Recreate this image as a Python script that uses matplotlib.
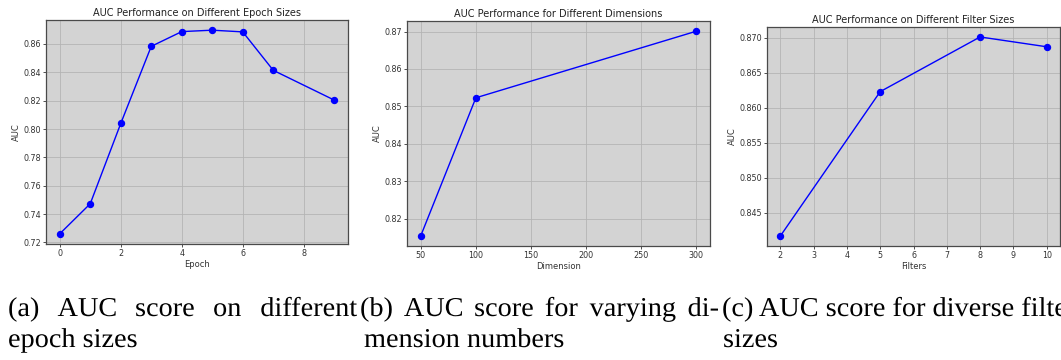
import matplotlib
matplotlib.use("Agg")
import matplotlib.pyplot as plt
from matplotlib.font_manager import FontProperties
from matplotlib.patches import PathPatch
from matplotlib.textpath import TextPath
from matplotlib.transforms import Affine2D

# data
epochs = [0, 1, 2, 3, 4, 5, 6, 7, 9]
auc_epoch = [0.7261, 0.7473, 0.8039, 0.8583, 0.8687, 0.8697, 0.8685, 0.8414, 0.8204]

dims = [50, 100, 300]
auc_dim = [0.8154, 0.8523, 0.8701]

filters = [2, 5, 8, 10]
auc_filter = [0.8417, 0.8623, 0.8701, 0.8687]

titles = ["AUC Performance on Different Epoch Sizes",
          "AUC Performance for Different Dimensions",
          "AUC Performance on Different Filter Sizes"]
xlabels = ["Epoch", "Dimension", "Filters"]
cap_line1 = ["(a) AUC score on different",
             "(b) AUC score for varying di-",
             "(c) AUC score for diverse filter"]
cap_line2 = ["epoch sizes", "mension numbers", "sizes"]

W, H = 1061, 360
fig = plt.figure(figsize=(W / 100, H / 100), dpi=100)


def box(l, t, r, b):
    return [l / W, (H - b) / H, (r - l) / W, (b - t) / H]


axes = [fig.add_axes(box(46, 20, 348, 244)),
        fig.add_axes(box(407, 21, 710, 246)),
        fig.add_axes(box(767, 27, 1060, 246))]

series = [(epochs, auc_epoch), (dims, auc_dim), (filters, auc_filter)]
for ax, (x, y), title, xl in zip(axes, series, titles, xlabels):
    ax.set_facecolor("lightgray")
    ax.plot(x, y, "o-", color="blue", lw=1.0, ms=4.3)
    ax.grid(True, color="#b4b4b4", lw=0.6)
    ax.set_axisbelow(True)
    ax.set_title(title, fontsize=7, color="#222222", pad=3)
    ax.set_xlabel(xl, fontsize=6, color="#333333", labelpad=1.5)
    ax.set_ylabel("AUC", fontsize=6, color="#333333", labelpad=2)
    ax.tick_params(labelsize=5.8, length=2, width=0.6, pad=1.5,
                   colors="#333333")
    for s in ax.spines.values():
        s.set_color("#4a4a4a")
        s.set_linewidth(0.9)

axes[2].set_xticks(range(2, 11))

# captions drawn as serif paths so the first lines can be justified
serif = FontProperties(family="Liberation Serif")
EM = 27.2
SX = 1.04


def word_path(s):
    return TextPath((0, 0), s, size=EM, prop=serif)


def put(path, x, y):
    tr = Affine2D().scale(SX, 1.0).translate(x, H - y)
    fig.add_artist(PathPatch(path, transform=tr, facecolor="black",
                             edgecolor="none"))


def justify(text, x0, x1, y):
    words = text.split()
    paths = [word_path(w) for w in words]
    widths = [p.get_extents().x1 * SX for p in paths]
    gap = (x1 - x0 - sum(widths)) / (len(words) - 1)
    x = x0
    for p, wd in zip(paths, widths):
        put(p, x, y)
        x += wd + gap


y1 = 316
y2 = 347
justify(cap_line1[0], 8, 357, y1)
justify(cap_line1[1], 360, 718, y1)
put(word_path(cap_line1[2]), 722, y1)
for x0, t in zip([8, 364, 723], cap_line2):
    put(word_path(t), x0, y2)

fig.savefig("out.png", dpi=100)
